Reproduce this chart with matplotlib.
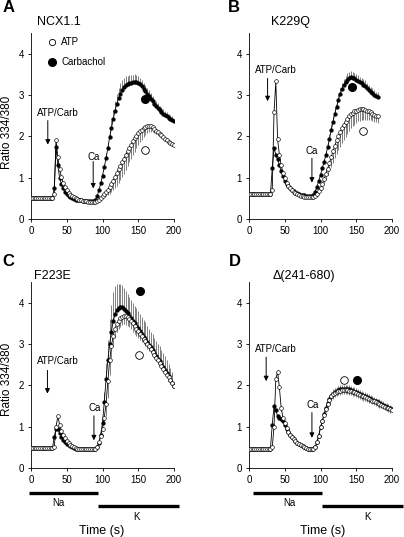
import numpy as np
import matplotlib
matplotlib.use('Agg')
import matplotlib.pyplot as plt
from matplotlib.transforms import blended_transform_factory

plt.rcParams['font.family'] = ['Liberation Sans', 'DejaVu Sans']

# sampling grid (s)
time = np.arange(0, 200.1, 2.5)

# ---------------- Panel A : NCX1.1 ----------------
A_carb = [0.50, 0.50, 0.50, 0.50, 0.50, 0.50, 0.50, 0.50, 0.50, 0.50,
          0.50, 0.50, 0.50, 0.75, 1.75, 1.30, 1.00, 0.85, 0.74, 0.66,
          0.60, 0.56, 0.52, 0.50, 0.48, 0.47, 0.46, 0.45, 0.45, 0.44,
          0.44, 0.44, 0.44, 0.44, 0.44, 0.44, 0.46, 0.55, 0.70, 0.86,
          1.05, 1.25, 1.48, 1.72, 1.98, 2.20, 2.42, 2.62, 2.78, 2.92,
          3.03, 3.12, 3.19, 3.24, 3.27, 3.29, 3.30, 3.31, 3.32, 3.32,
          3.30, 3.26, 3.21, 3.15, 3.09, 3.03, 2.97, 2.91, 2.85, 2.79,
          2.73, 2.68, 2.63, 2.59, 2.55, 2.51, 2.48, 2.45, 2.42, 2.40,
          2.38]
A_atp = [0.50, 0.50, 0.50, 0.50, 0.50, 0.50, 0.50, 0.50, 0.50, 0.50,
         0.50, 0.50, 0.50, 0.60, 1.92, 1.50, 1.20, 1.02, 0.88, 0.78,
         0.70, 0.64, 0.59, 0.55, 0.52, 0.50, 0.48, 0.46, 0.45, 0.44,
         0.43, 0.43, 0.42, 0.42, 0.42, 0.42, 0.42, 0.43, 0.46, 0.50,
         0.55, 0.60, 0.65, 0.71, 0.77, 0.85, 0.93, 1.02, 1.11, 1.20,
         1.28, 1.37, 1.46, 1.55, 1.64, 1.72, 1.80, 1.88, 1.95, 2.01,
         2.07, 2.12, 2.16, 2.20, 2.23, 2.25, 2.26, 2.25, 2.22, 2.18,
         2.14, 2.10, 2.06, 2.02, 1.98, 1.94, 1.90, 1.87, 1.84, 1.81,
         1.78]
# SEM, from t = 100 s onward
A_carb_err = [0.05, 0.08, 0.12, 0.15, 0.18, 0.20, 0.22, 0.24, 0.25, 0.25,
              0.25, 0.24, 0.23, 0.22, 0.20, 0.20, 0.19, 0.18, 0.18, 0.17,
              0.17, 0.16, 0.16, 0.15, 0.15, 0.14, 0.14, 0.13, 0.13, 0.12,
              0.12, 0.12, 0.11, 0.11, 0.10, 0.10, 0.10, 0.09, 0.09, 0.09,
              0.08]
A_atp_err = [0.05, 0.08, 0.10, 0.13, 0.16, 0.20, 0.24, 0.28, 0.30, 0.32,
             0.34, 0.35, 0.36, 0.36, 0.36, 0.35, 0.34, 0.33, 0.32, 0.30,
             0.28, 0.26, 0.24, 0.22, 0.20, 0.18, 0.16, 0.14, 0.12, 0.10,
             0.09, 0.08, 0.07, 0.06, 0.05, 0.05, 0.04, 0.04, 0.03, 0.03,
             0.03]
A_big_carb = (159, 2.90)
A_big_atp = (159, 1.68)

# ---------------- Panel B : K229Q (to 180 s) ----------------
B_carb = [0.60, 0.60, 0.60, 0.60, 0.60, 0.60, 0.60, 0.60, 0.60, 0.60,
          0.60, 0.60, 0.60, 1.23, 1.72, 1.55, 1.45, 1.30, 1.15, 1.03,
          0.93, 0.85, 0.79, 0.74, 0.70, 0.67, 0.64, 0.62, 0.60, 0.59,
          0.58, 0.57, 0.56, 0.56, 0.55, 0.55, 0.58, 0.66, 0.78, 0.92,
          1.07, 1.23, 1.38, 1.55, 1.74, 1.93, 2.15, 2.35, 2.55, 2.72,
          2.88, 3.02, 3.14, 3.24, 3.31, 3.37, 3.41, 3.43, 3.42, 3.40,
          3.37, 3.34, 3.31, 3.28, 3.25, 3.22, 3.18, 3.13, 3.08, 3.04,
          3.00, 2.97, 2.95]
B_atp = [0.60, 0.60, 0.60, 0.60, 0.60, 0.60, 0.60, 0.60, 0.60, 0.60,
         0.60, 0.60, 0.60, 0.70, 2.58, 3.33, 1.93, 1.55, 1.30, 1.12,
         0.98, 0.88, 0.80, 0.74, 0.69, 0.65, 0.62, 0.60, 0.58, 0.56,
         0.55, 0.54, 0.53, 0.52, 0.52, 0.52, 0.52, 0.55, 0.60, 0.67,
         0.75, 0.85, 0.97, 1.10, 1.22, 1.36, 1.50, 1.64, 1.77, 1.90,
         2.00, 2.10, 2.20, 2.28, 2.35, 2.42, 2.48, 2.53, 2.57, 2.60,
         2.62, 2.64, 2.65, 2.65, 2.65, 2.64, 2.62, 2.60, 2.58, 2.55,
         2.52, 2.50, 2.48]
B_carb_err = [0.04, 0.06, 0.08, 0.10, 0.12, 0.13, 0.14, 0.15, 0.15, 0.15,
              0.15, 0.15, 0.15, 0.15, 0.15, 0.15, 0.15, 0.14, 0.14, 0.14,
              0.14, 0.14, 0.13, 0.13, 0.13, 0.13, 0.12, 0.12, 0.12, 0.12,
              0.12, 0.11, 0.11]
B_atp_err = [0.05, 0.08, 0.10, 0.13, 0.16, 0.20, 0.24, 0.28, 0.30, 0.32,
             0.34, 0.35, 0.36, 0.36, 0.36, 0.36, 0.35, 0.34, 0.33, 0.32,
             0.30, 0.28, 0.27, 0.26, 0.25, 0.24, 0.22, 0.20, 0.19, 0.18,
             0.17, 0.16, 0.15]
B_big_carb = (143.5, 3.19)
B_big_atp = (160, 2.14)

# ---------------- Panel C : F223E ----------------
C_carb = [0.48, 0.48, 0.48, 0.48, 0.48, 0.48, 0.48, 0.48, 0.48, 0.48,
          0.48, 0.48, 0.48, 0.75, 0.95, 0.95, 0.85, 0.76, 0.68, 0.62,
          0.58, 0.55, 0.52, 0.50, 0.48, 0.47, 0.46, 0.46, 0.45, 0.45,
          0.45, 0.45, 0.45, 0.45, 0.45, 0.45, 0.46, 0.50, 0.60, 0.80,
          1.10, 1.60, 2.15, 2.60, 3.00, 3.30, 3.55, 3.72, 3.83, 3.88,
          3.90, 3.89, 3.85, 3.80, 3.75, 3.68, 3.62, 3.56, 3.50, 3.44,
          3.38, 3.32, 3.25, 3.18, 3.12, 3.05, 2.98, 2.92, 2.85, 2.78,
          2.71, 2.64, 2.58, 2.51, 2.44, 2.37, 2.30, 2.22, 2.14, 2.06,
          1.98]
C_atp = [0.48, 0.48, 0.48, 0.48, 0.48, 0.48, 0.48, 0.48, 0.48, 0.48,
         0.48, 0.48, 0.48, 0.50, 1.00, 1.25, 1.05, 0.90, 0.80, 0.72,
         0.65, 0.60, 0.56, 0.53, 0.50, 0.48, 0.47, 0.46, 0.45, 0.45,
         0.45, 0.45, 0.45, 0.45, 0.45, 0.45, 0.45, 0.50, 0.62, 0.78,
         0.95, 1.22, 1.55, 2.10, 2.60, 2.95, 3.20, 3.37, 3.48, 3.56,
         3.62, 3.66, 3.68, 3.67, 3.64, 3.60, 3.56, 3.50, 3.44, 3.37,
         3.31, 3.25, 3.19, 3.13, 3.07, 3.00, 2.94, 2.87, 2.81, 2.74,
         2.67, 2.60, 2.54, 2.47, 2.40, 2.33, 2.26, 2.19, 2.12, 2.05,
         1.98]
C_carb_err = [0.10, 0.25, 0.40, 0.50, 0.60, 0.65, 0.70, 0.68, 0.62, 0.58,
              0.55, 0.53, 0.50, 0.48, 0.46, 0.45, 0.44, 0.43, 0.42, 0.42,
              0.41, 0.41, 0.40, 0.40, 0.40, 0.39, 0.39, 0.38, 0.38, 0.37,
              0.37, 0.36, 0.36, 0.35, 0.34, 0.33, 0.32, 0.30, 0.28, 0.26,
              0.24]
C_atp_err = [0.05, 0.15, 0.30, 0.40, 0.35, 0.30, 0.25, 0.22, 0.20, 0.20,
             0.20, 0.20, 0.20, 0.20, 0.20, 0.20, 0.20, 0.20, 0.19, 0.18,
             0.17, 0.16, 0.15, 0.14, 0.13, 0.12, 0.11, 0.10, 0.10, 0.09,
             0.09, 0.08, 0.08, 0.07, 0.07, 0.06, 0.06, 0.05, 0.05, 0.05,
             0.05]
C_big_carb = (152.5, 4.27)
C_big_atp = (151.5, 2.74)

# ---------------- Panel D : delta(241-680) ----------------
D_carb = [0.47, 0.47, 0.47, 0.47, 0.47, 0.47, 0.47, 0.47, 0.47, 0.47,
          0.47, 0.47, 0.47, 1.05, 1.50, 1.40, 1.25, 1.22, 1.18, 1.14,
          1.05, 0.95, 0.87, 0.80, 0.74, 0.69, 0.65, 0.61, 0.58, 0.55,
          0.52, 0.50, 0.48, 0.47, 0.46, 0.45, 0.46, 0.50, 0.62, 0.78,
          0.98, 1.14, 1.30, 1.45, 1.57, 1.67, 1.75, 1.80, 1.84, 1.87,
          1.89, 1.90, 1.91, 1.91, 1.91, 1.90, 1.90, 1.89, 1.87, 1.85,
          1.83, 1.81, 1.79, 1.77, 1.75, 1.73, 1.71, 1.69, 1.67, 1.65,
          1.63, 1.61, 1.59, 1.57, 1.55, 1.53, 1.50, 1.48, 1.46, 1.44,
          1.42]
D_atp = [0.47, 0.47, 0.47, 0.47, 0.47, 0.47, 0.47, 0.47, 0.47, 0.47,
         0.47, 0.47, 0.47, 0.50, 1.00, 2.15, 2.33, 1.95, 1.45, 1.22,
         1.08, 0.97, 0.88, 0.81, 0.75, 0.70, 0.65, 0.61, 0.58, 0.55,
         0.52, 0.50, 0.48, 0.47, 0.46, 0.45, 0.46, 0.50, 0.62, 0.78,
         0.98, 1.13, 1.28, 1.42, 1.55, 1.65, 1.73, 1.78, 1.82, 1.84,
         1.86, 1.87, 1.88, 1.88, 1.88, 1.88, 1.87, 1.86, 1.85, 1.83,
         1.81, 1.79, 1.77, 1.75, 1.73, 1.71, 1.69, 1.67, 1.65, 1.63,
         1.61, 1.59, 1.57, 1.55, 1.53, 1.51, 1.48, 1.46, 1.44, 1.42,
         1.40]
D_carb_err = [0.03, 0.04, 0.05, 0.06, 0.07, 0.08, 0.09, 0.10, 0.10, 0.10,
              0.10, 0.10, 0.10, 0.10, 0.10, 0.10, 0.10, 0.10, 0.10, 0.10,
              0.10, 0.10, 0.10, 0.10, 0.10, 0.10, 0.10, 0.09, 0.09, 0.09,
              0.09, 0.09, 0.09, 0.09, 0.09, 0.08, 0.08, 0.08, 0.08, 0.08,
              0.08]
D_atp_err = [0.03, 0.04, 0.05, 0.06, 0.07, 0.08, 0.09, 0.10, 0.10, 0.10,
             0.10, 0.10, 0.10, 0.10, 0.10, 0.10, 0.10, 0.10, 0.10, 0.10,
             0.10, 0.10, 0.10, 0.10, 0.10, 0.10, 0.10, 0.09, 0.09, 0.09,
             0.09, 0.09, 0.09, 0.09, 0.09, 0.08, 0.08, 0.08, 0.08, 0.08,
             0.08]
D_big_atp = (133, 2.12)
D_big_carb = (150.5, 2.12)

titles = ['NCX1.1', 'K229Q', 'F223E', '\u0394(241-680)']
letters = ['A', 'B', 'C', 'D']
xticks = [0, 50, 100, 150, 200]
yticks = [0, 1, 2, 3, 4]

# solution bars (s)
C_na_span = (-3, 94)
C_k_span = (94, 207)
D_na_span = (5.5, 102)
D_k_span = (102, 216)

W, H = 404, 537
fig = plt.figure(figsize=(W / 100, H / 100), dpi=100)

ax_w = 143 / W
ax_h = 0.3465
axA = fig.add_axes([31 / W, 1 - 219 / H, ax_w, ax_h])
axB = fig.add_axes([249 / W, 1 - 219 / H, ax_w, ax_h])
axC = fig.add_axes([31 / W, 1 - 468 / H, ax_w, ax_h])
axD = fig.add_axes([249 / W, 1 - 468 / H, ax_w, ax_h])


def draw(ax, carb, atp, carb_err, atp_err, big_carb, big_atp,
         atp_arrow, ca_arrow, atp_text, ca_text):
    tc = time[:len(carb)]
    ta = time[:len(atp)]
    carb = np.array(carb)
    atp = np.array(atp)
    tce = tc[len(tc) - len(carb_err):]
    tae = ta[len(ta) - len(atp_err):]
    ax.vlines(tce, carb[len(carb) - len(carb_err):],
              carb[len(carb) - len(carb_err):] + np.array(carb_err),
              color='0.3', lw=0.5, zorder=1)
    ax.vlines(tae, atp[len(atp) - len(atp_err):] - np.array(atp_err),
              atp[len(atp) - len(atp_err):],
              color='0.3', lw=0.5, zorder=1)
    ax.plot(tc, carb, '-o', color='k', lw=0.6, ms=2.7, mfc='k', mec='k',
            mew=0.3, zorder=3)
    ax.plot(ta, atp, '-o', color='k', lw=0.6, ms=2.7, mfc='white', mec='k',
            mew=0.45, zorder=4)
    ax.plot([big_carb[0]], [big_carb[1]], 'o', ms=5.5, mfc='k', mec='k',
            zorder=5)
    ax.plot([big_atp[0]], [big_atp[1]], 'o', ms=5.5, mfc='white', mec='k',
            mew=0.6, zorder=5)
    # arrows
    for (x, y0, y1) in [atp_arrow, ca_arrow]:
        ax.annotate('', xy=(x, y1), xytext=(x, y0),
                    arrowprops=dict(arrowstyle='-|>', color='k', lw=0.7,
                                    mutation_scale=7, shrinkA=0, shrinkB=0))
    ax.text(atp_text[0], atp_text[1], 'ATP/Carb', ha='center', va='center',
            fontsize=7)
    ax.text(ca_text[0], ca_text[1], 'Ca', ha='center', va='center',
            fontsize=7)
    ax.set_xlim(0, 200)
    ax.set_ylim(0, 4.5)
    ax.set_xticks(xticks)
    ax.set_yticks(yticks)
    for s in ['top', 'right']:
        ax.spines[s].set_visible(False)
    for s in ['left', 'bottom']:
        ax.spines[s].set_linewidth(0.6)
    ax.tick_params(direction='out', length=2.5, width=0.6, labelsize=7,
                   pad=2.5)


draw(axA, A_carb, A_atp, A_carb_err, A_atp_err, A_big_carb, A_big_atp,
     (23.5, 2.38, 1.80), (87, 1.39, 0.74), (37, 2.57), (87, 1.51))
draw(axB, B_carb, B_atp, B_carb_err, B_atp_err, B_big_carb, B_big_atp,
     (26, 3.4, 2.85), (88, 1.47, 0.88), (38, 3.6), (88, 1.65))
draw(axC, C_carb, C_atp, C_carb_err, C_atp_err, C_big_carb, C_big_atp,
     (23, 2.36, 1.80), (88, 1.26, 0.67), (37, 2.58), (89, 1.44))
draw(axD, D_carb, D_atp, D_carb_err, D_atp_err, D_big_carb, D_big_atp,
     (24, 2.68, 2.10), (88, 1.34, 0.73), (37, 2.87), (88.5, 1.52))

# legend in panel A
axA.plot([29], [4.27], 'o', ms=4.5, mfc='white', mec='k', mew=0.6)
axA.plot([29], [3.79], 'o', ms=5.5, mfc='k', mec='k')
axA.text(42, 4.27, 'ATP', fontsize=7, va='center', ha='left')
axA.text(42, 3.79, 'Carbachol', fontsize=7, va='center', ha='left')

# solution bars
for ax, na, k, na_lab, k_lab, tlab in [(axC, C_na_span, C_k_span, 38, 148, 99),
                                       (axD, D_na_span, D_k_span, 57, 166, 103)]:
    tr = blended_transform_factory(ax.transData, ax.transAxes)
    ax.plot(na, [-0.135, -0.135], transform=tr, clip_on=False, color='k',
            lw=2.4, solid_capstyle='butt')
    ax.plot(k, [-0.202, -0.202], transform=tr, clip_on=False, color='k',
            lw=2.4, solid_capstyle='butt')
    ax.text(na_lab, -0.187, 'Na', transform=tr, ha='center', va='center',
            fontsize=7)
    ax.text(k_lab, -0.261, 'K', transform=tr, ha='center', va='center',
            fontsize=7)
    ax.text(tlab, -0.337, 'Time (s)', transform=tr, ha='center',
            va='center', fontsize=9)

# titles and panel letters
title_pos = [(59.3, 22), (290.7, 22), (52.5, 275.7), (304, 275.7)]
letter_pos = [(3, 8), (228, 8), (2, 262), (229, 262)]
for ttl, (x, y) in zip(titles, title_pos):
    fig.text(x / W, 1 - y / H, ttl, ha='center', va='center', fontsize=9)
for let, (x, y) in zip(letters, letter_pos):
    fig.text(x / W, 1 - y / H, let, ha='left', va='center', fontsize=12,
             fontweight='bold')

# y labels
fig.text(7 / W, 1 - 132.5 / H, 'Ratio 334/380', rotation=90, ha='center',
         va='center', fontsize=8.5)
fig.text(7 / W, 1 - 379 / H, 'Ratio 334/380', rotation=90, ha='center',
         va='center', fontsize=8.5)

fig.savefig('out.png', dpi=100)
